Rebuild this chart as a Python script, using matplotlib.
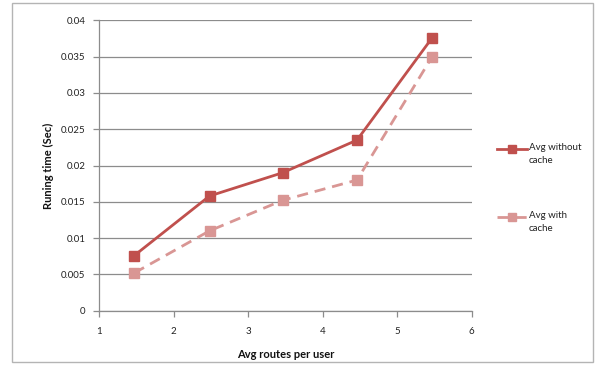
import matplotlib
matplotlib.use("Agg")
import matplotlib.pyplot as plt
from matplotlib.patches import Rectangle
from matplotlib.lines import Line2D
from matplotlib.ticker import FuncFormatter

routes = [1.47, 2.48, 3.46, 4.46, 5.47]
avg_without_cache = [0.0076, 0.0158, 0.0190, 0.0235, 0.0376]
avg_with_cache = [0.0052, 0.0110, 0.0152, 0.0180, 0.0350]
series_labels = ["Avg without\ncache", "Avg with\ncache"]
x_ticks = [1, 2, 3, 4, 5, 6]
y_ticks = [0, 0.005, 0.01, 0.015, 0.02, 0.025, 0.03, 0.035, 0.04]

plt.rcParams["font.family"] = ["Lato", "DejaVu Sans"]

fig = plt.figure(figsize=(6.0, 3.69), dpi=100)
W, H = 600, 369

# outer chart frame
fig.patches.append(Rectangle((12 / W, 1 - 362 / H), (593 - 12) / W, (362 - 3) / H,
                             transform=fig.transFigure, fill=False,
                             edgecolor="#b4b4b4", linewidth=1.0))

ax = fig.add_axes([99.3 / W, 1 - 310.7 / H, 372.4 / W, 290.4 / H])
ax.set_xlim(1, 6)
ax.set_ylim(0, 0.04)
ax.set_xticks(x_ticks)
ax.set_yticks(y_ticks)
ax.yaxis.set_major_formatter(FuncFormatter(lambda v, p: ("%.3f" % v).rstrip("0").rstrip(".") if v else "0"))
ax.grid(axis="y", color="#8c8c8c", linewidth=0.9)
ax.set_axisbelow(True)
for s in ("top", "right"):
    ax.spines[s].set_visible(False)
for s in ("left", "bottom"):
    ax.spines[s].set_color("#8c8c8c")
    ax.spines[s].set_linewidth(0.9)
ax.tick_params(axis="both", colors="#8c8c8c", labelcolor="#222222", labelsize=7, length=4, width=0.9)
ax.tick_params(axis="x", pad=8)
ax.tick_params(axis="y", pad=6)

styles = [dict(color="#c0504d"), dict(color="#d99694", dashes=(4, 2.5))]
for vals, st in zip([avg_without_cache, avg_with_cache], styles):
    ax.plot(routes, vals, linewidth=2, marker="s", markersize=7, **st)

ax.set_xlabel("Avg routes per user", fontsize=8, fontweight="bold", labelpad=9, color="#111111")
ax.set_ylabel("Runing time (Sec)", fontsize=8, fontweight="bold", color="#111111")
ax.yaxis.set_label_coords((54 - 99.3) / 372.4, 0.5)

# legend entries: handle aligned with the first text line
legend_rows = [149, 217]
for y, st, lab in zip(legend_rows, styles, series_labels):
    yf = 1 - y / H
    fig.lines.append(Line2D([497 / W, 527 / W], [yf, yf], transform=fig.transFigure,
                            linewidth=2, **st))
    fig.lines.append(Line2D([512 / W], [yf], transform=fig.transFigure, marker="s",
                            markersize=6, linestyle="none", color=st["color"]))
    fig.text(529 / W, yf + 5.5 / H, lab, fontsize=7, va="top", ha="left",
             linespacing=1.45, color="#222222")

fig.savefig("out.png", dpi=100)
